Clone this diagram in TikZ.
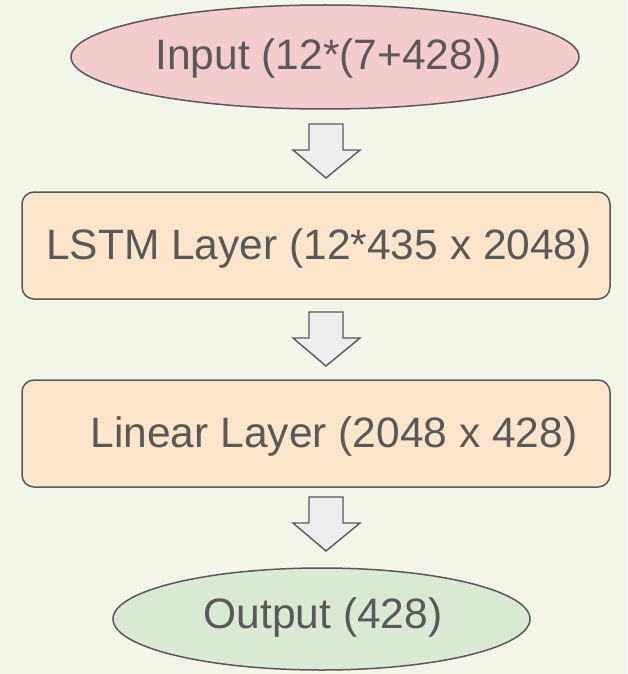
\documentclass[tikz,border=0pt]{standalone}
\usepackage{fontspec}
\setmainfont{Liberation Sans}
\usetikzlibrary{shapes.geometric}
\definecolor{bg}{HTML}{F3F5E9}
\definecolor{strokeg}{HTML}{595959}
\definecolor{inpink}{HTML}{F4CCCC}
\definecolor{layerfill}{HTML}{FCE5CD}
\definecolor{outgreen}{HTML}{D9EAD3}
\definecolor{arrowfill}{HTML}{EEEEEE}
\tikzset{
  shapeline/.style={draw=strokeg, line width=1.5pt},
  oval/.style={shapeline, ellipse, inner sep=0pt},
  layerbox/.style={shapeline, rectangle, rounded corners=12pt, inner sep=0pt},
  lbl/.style={text=strokeg, font=\fontsize{42.5}{50}\selectfont, inner sep=0pt, anchor=base},
  blockarrow/.style={shapeline, fill=arrowfill, line width=1.4pt, line join=miter}
}
\begin{document}
\begin{tikzpicture}[x=1pt, y=-1pt]
\fill[bg] (0,0) rectangle (627,674);
\useasboundingbox (0,0) rectangle (627,674);

\node[oval, fill=inpink, minimum width=508pt, minimum height=104pt] (inp) at (325,57) {};
\node[lbl] (inptxt) at (328.5,70) {Input (12*(7+428))};

\node[layerbox, fill=layerfill, minimum width=588pt, minimum height=107pt] (lstm) at (316,245.5) {};
\node[lbl] (lstmtxt) at (319,259) {LSTM Layer (12*435 x 2048)};

\node[layerbox, fill=layerfill, minimum width=588pt, minimum height=107pt] (lin) at (316,433.5) {};
\node[lbl] (lintxt) at (334,447) {Linear Layer (2048 x 428)};

\node[oval, fill=outgreen, minimum width=417pt, minimum height=102pt] (out) at (321.5,619) {};
\node[lbl] (outtxt) at (323,628) {Output (428)};

% block arrows
\foreach \t/\n in {124/a1, 312/a2, 497/a3}{
  \draw[blockarrow] (309,\t) -- (343,\t) -- (343,\t+26) -- (360,\t+26) -- (326,\t+54)
     -- (293,\t+26) -- (309,\t+26) -- cycle;
}
\end{tikzpicture}
\end{document}
